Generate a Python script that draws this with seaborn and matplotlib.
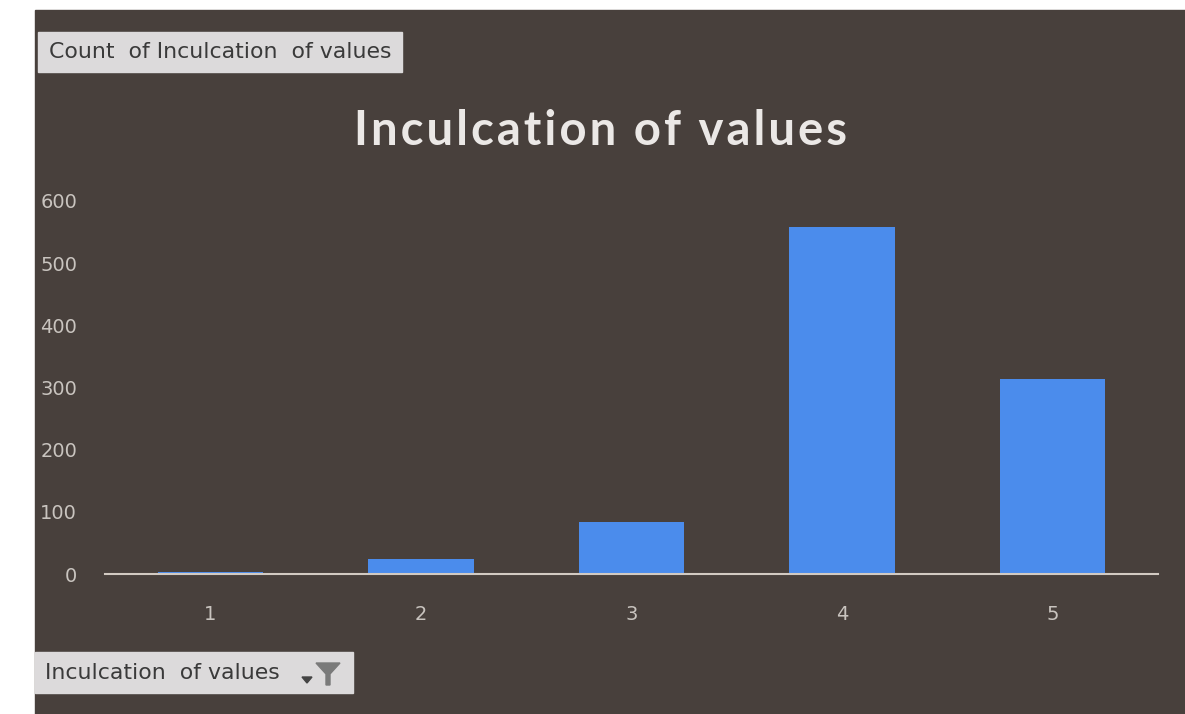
import matplotlib
matplotlib.use("Agg")
import matplotlib.pyplot as plt
import matplotlib.patches as mpatches
import pandas as pd
import seaborn as sns

sns.set_style("white")
plt.rcParams['font.family'] = ['DejaVu Sans']

# values
ratings = ["1", "2", "3", "4", "5"]
counts = [4, 24, 84, 558, 313]
yticks = [0, 100, 200, 300, 400, 500, 600]
title = "Inculcation of values"

df = pd.DataFrame({"rating": ratings, "count": counts})

bg = "#48403c"
fig = plt.figure(figsize=(11.85, 7.14), dpi=100, facecolor="white")
# dark chart area (scan has a white strip at left / top)
fig.patches.append(mpatches.Rectangle((35 / 1185, 0), 1 - 35 / 1185, 1 - 10 / 714,
                                      transform=fig.transFigure, color=bg, zorder=-5))

ax = fig.add_axes([105 / 1185, 1 - 574 / 714, 1053 / 1185, 373 / 714])
ax.set_zorder(5)
ax.set_facecolor("none")
sns.barplot(data=df, x="rating", y="count", color="#4b8cec", width=0.5,
            saturation=1, edgecolor="none", linewidth=0, ax=ax)
ax.set_ylim(0, 600)
ax.set_xlim(-0.5, 4.5)
ax.set_yticks(yticks)
ax.set_xlabel("")
ax.set_ylabel("")
for s in ["top", "right", "left"]:
    ax.spines[s].set_visible(False)
ax.spines["bottom"].set_color("#d2cac2")
ax.spines["bottom"].set_linewidth(1.5)
ax.tick_params(axis="y", length=0, pad=20, labelsize=14, labelcolor="#c9c4bf")
ax.tick_params(axis="x", length=0, pad=22, labelsize=14, labelcolor="#c9c4bf")

# letter-spaced title (hair spaces between glyphs)
spaced = "\u200a".join(title)
fig.text(601 / 1185, 1 - 131 / 714, spaced, ha="center", va="center",
         fontsize=34, fontweight="bold", color="#ebe8e6", family=["Lato", "DejaVu Sans"])

# pivot field buttons
fig.patches.append(mpatches.Rectangle((38 / 1185, 1 - 72 / 714), 364 / 1185, 40 / 714,
                                      transform=fig.transFigure, color="#dcdadb", zorder=1))
fig.text(220 / 1185, 1 - 52 / 714, "Count  of Inculcation  of values", ha="center", va="center",
         fontsize=15.8, color="#3a3a3a", family=["DejaVu Sans"])
fig.patches.append(mpatches.Rectangle((35 / 1185, 1 - 693 / 714), 318 / 1185, 41 / 714,
                                      transform=fig.transFigure, color="#dcdadb", zorder=1))
fig.text(45 / 1185, 1 - 673 / 714, "Inculcation  of values", ha="left", va="center",
         fontsize=15.8, color="#3a3a3a", family=["DejaVu Sans"])
fig.patches.append(mpatches.Polygon([(316 / 1185, 1 - 663 / 714), (340 / 1185, 1 - 663 / 714),
                                     (330 / 1185, 1 - 674 / 714), (330 / 1185, 1 - 685 / 714),
                                     (326 / 1185, 1 - 685 / 714), (326 / 1185, 1 - 674 / 714)],
                                    closed=True, transform=fig.transFigure, color="#7a7a7a", zorder=2))
fig.patches.append(mpatches.Polygon([(302 / 1185, 1 - 677 / 714), (312 / 1185, 1 - 677 / 714),
                                     (307 / 1185, 1 - 683 / 714)],
                                    closed=True, transform=fig.transFigure, color="#444444", zorder=2))

fig.savefig("out.png", dpi=100, facecolor=fig.get_facecolor())
